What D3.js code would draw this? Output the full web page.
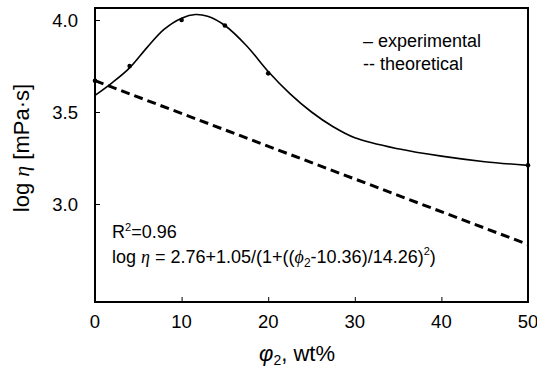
<!doctype html>
<html lang="en">
<head>
<meta charset="utf-8" />
<title>log viscosity vs phi2</title>
<script src="https://d3js.org/d3.v7.min.js"></script>
<style>
  body { margin: 0; background: #fff; }
  text { font-family: "Liberation Sans", Arial, sans-serif; fill: #000; }
</style>
</head>
<body>
<script>
// measured points (wt%, log eta)
var pointX = [0, 4, 10, 15, 20, 50];
var pointY = [3.67, 3.75, 4.00, 3.97, 3.71, 3.21];

// experimental curve
var curveX = [0, 2, 4, 6, 8, 10, 11.6, 13, 15, 17.5, 20, 22.5, 25, 27.5, 30, 35, 40, 45, 50];
var curveY = [3.59, 3.66, 3.74, 3.85, 3.95, 4.01, 4.03, 4.02, 3.97, 3.86, 3.72, 3.60, 3.50, 3.42, 3.36, 3.30, 3.26, 3.23, 3.21];

// theoretical line
var theoX = [0, 50];
var theoY = [3.67, 2.78];

var xTicks = [0, 10, 20, 30, 40, 50];
var yTicks = [3.0, 3.5, 4.0];

var w = 537, h = 367;
var padL = 95, padR = 528, padT = 8, padB = 302;

var svg = d3.select("body").append("svg")
  .attr("width", w)
  .attr("height", h);

var x = d3.scaleLinear().domain([0, 50]).range([padL, padR]);
var y = d3.scaleLinear().domain([3.0, 4.0]).range([204, 20]);

// plot frame
svg.append("rect")
  .attr("x", padL).attr("y", padT)
  .attr("width", padR - padL).attr("height", padB - padT)
  .attr("fill", "none").attr("stroke", "#000").attr("stroke-width", 2);

// inward ticks
var xAxis = d3.axisTop(x).tickValues(xTicks.slice(1, 5)).tickSize(5).tickFormat("");
svg.append("g").attr("transform", "translate(0," + padB + ")").call(xAxis)
  .call(function(g) { g.select(".domain").remove(); });
var yAxis = d3.axisRight(y).tickValues(yTicks).tickSize(5).tickFormat("");
svg.append("g").attr("transform", "translate(" + padL + ",0)").call(yAxis)
  .call(function(g) { g.select(".domain").remove(); });

// tick labels
svg.selectAll(".xl").data(xTicks).enter().append("text")
  .attr("x", function(d) { return x(d); })
  .attr("y", 328)
  .attr("text-anchor", "middle")
  .attr("font-size", "18.5px")
  .text(function(d) { return d; });
svg.selectAll(".yl").data(yTicks).enter().append("text")
  .attr("x", 78)
  .attr("y", function(d) { return y(d) + 7; })
  .attr("text-anchor", "end")
  .attr("font-size", "18.5px")
  .text(function(d) { return d.toFixed(1); });

// theoretical dashed line
var line = d3.line().x(function(d) { return x(d[0]); }).y(function(d) { return y(d[1]); });
svg.append("path")
  .datum(d3.zip(theoX, theoY))
  .attr("d", line)
  .attr("fill", "none").attr("stroke", "#000")
  .attr("stroke-width", 3).attr("stroke-dasharray", "9,5");

// experimental curve
var curve = d3.line().curve(d3.curveCatmullRom)
  .x(function(d) { return x(d[0]); }).y(function(d) { return y(d[1]); });
svg.append("path")
  .datum(d3.zip(curveX, curveY))
  .attr("d", curve)
  .attr("fill", "none").attr("stroke", "#000").attr("stroke-width", 1.6);

// points
svg.selectAll(".pt").data(d3.zip(pointX, pointY)).enter().append("circle")
  .attr("cx", function(d) { return x(d[0]); })
  .attr("cy", function(d) { return y(d[1]); })
  .attr("r", 2.3).attr("fill", "#000");

// legend
svg.append("text").attr("x", 363).attr("y", 47).attr("font-size", "18px").text("\u2013 experimental");
svg.append("text").attr("x", 363).attr("y", 70).attr("font-size", "18px").text("-- theoretical");

// equation
var r2 = svg.append("text").attr("x", 112).attr("y", 238).attr("font-size", "18px");
r2.append("tspan").text("R");
r2.append("tspan").attr("font-size", "11px").attr("dy", -7).text("2");
r2.append("tspan").attr("dy", 7).text("=0.96");

var eq = svg.append("text").attr("x", 112).attr("y", 263).attr("font-size", "18px");
eq.append("tspan").text("log ");
eq.append("tspan").attr("font-style", "italic").attr("font-family", "Liberation Serif, serif").text("\u03b7");
eq.append("tspan").text(" = 2.76+1.05/(1+((");
eq.append("tspan").attr("font-style", "italic").attr("font-family", "Liberation Serif, serif").text("\u03d5");
eq.append("tspan").attr("font-size", "12px").attr("dy", 4).text("2");
eq.append("tspan").attr("dy", -4).text("-10.36)/14.26)");
eq.append("tspan").attr("font-size", "11px").attr("dy", -8).text("2");
eq.append("tspan").attr("dy", 8).text(")");

// y axis title
var yt = svg.append("text")
  .attr("transform", "translate(29,148) rotate(-90)")
  .attr("text-anchor", "middle")
  .attr("font-size", "22px");
yt.append("tspan").text("log ");
yt.append("tspan").attr("font-style", "italic").attr("font-family", "Liberation Serif, serif").text("\u03b7");
yt.append("tspan").text(" [mPa\u00b7s]");

// x axis title
var xt = svg.append("text")
  .attr("x", 297).attr("y", 361)
  .attr("text-anchor", "middle")
  .attr("font-family", "Liberation Serif, serif")
  .attr("font-size", "22px");
xt.append("tspan").attr("font-style", "italic").text("\u03c6");
xt.append("tspan").attr("font-size", "14px").attr("dy", 4).text("2");
xt.append("tspan").attr("dy", -4).text(", wt%");
</script>
</body>
</html>
